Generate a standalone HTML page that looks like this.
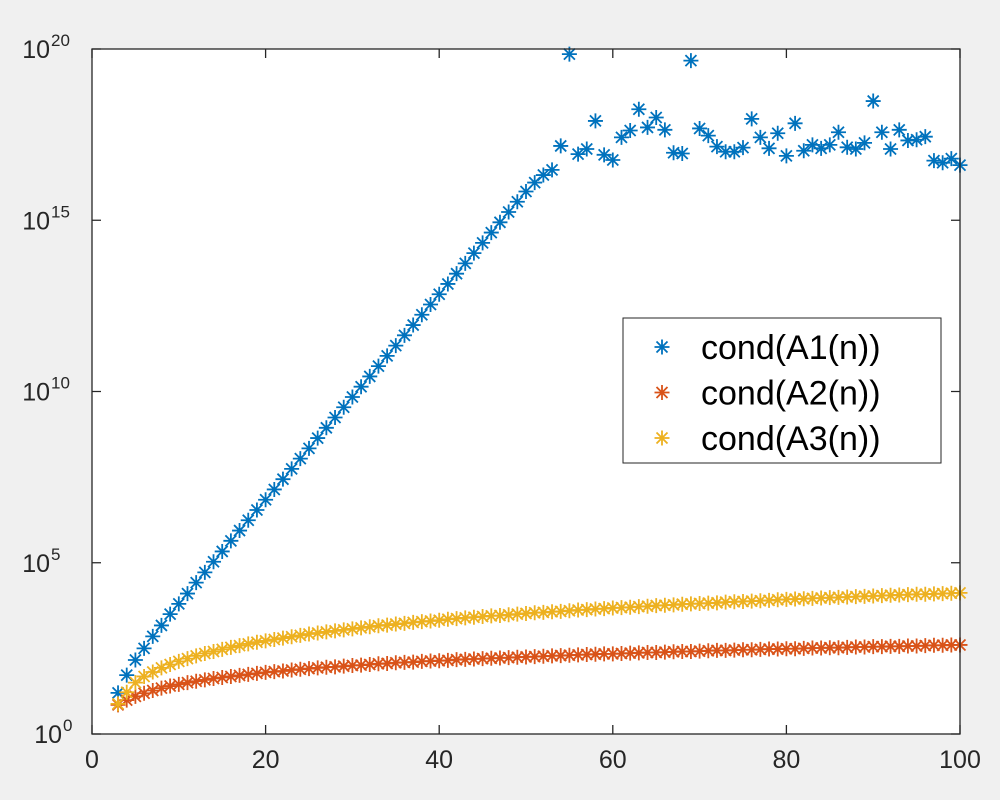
<!DOCTYPE html>
<html><head><meta charset="utf-8"><style>
body{margin:0;background:#f0f0f0;}
svg{display:block;font-family:"Liberation Sans",sans-serif;}
</style></head><body>
<svg id="chart" width="1000" height="800" viewBox="0 0 1000 800"></svg>
<script>
const xTicks=[0,20,40,60,80,100];
const yTickExps=[0,5,10,15,20];
const nValues=[];for(let n=3;n<=100;n++)nValues.push(n);
const cond1Log=[1.2,1.72,2.16,2.5,2.85,3.17,3.5,3.8,4.1,4.42,4.72,5.03,5.33,5.64,5.94,6.24,6.54,6.84,7.14,7.44,7.74,8.04,8.34,8.64,8.94,9.24,9.54,9.84,10.14,10.44,10.74,11.04,11.34,11.64,11.94,12.24,12.54,12.84,13.14,13.44,13.74,14.04,14.34,14.64,14.94,15.24,15.54,15.84,16.1,16.32,16.47,17.17,19.85,16.93,17.08,17.9,16.91,16.76,17.42,17.62,18.24,17.71,18.0,17.64,16.97,16.95,19.66,17.68,17.47,17.15,17.0,17.0,17.12,17.96,17.42,17.1,17.54,16.88,17.83,17.03,17.2,17.1,17.2,17.57,17.13,17.08,17.26,18.48,17.57,17.08,17.64,17.33,17.35,17.44,16.74,16.68,16.8,16.61];
const cond2Log=[0.85,0.99,1.10,1.19,1.27,1.34,1.40,1.45,1.50,1.54,1.58,1.62,1.65,1.68,1.71,1.74,1.77,1.80,1.82,1.84,1.87,1.89,1.91,1.93,1.95,1.96,1.98,2.0,2.01,2.03,2.05,2.06,2.08,2.09,2.10,2.12,2.13,2.14,2.15,2.17,2.18,2.19,2.20,2.21,2.22,2.23,2.24,2.25,2.26,2.27,2.28,2.29,2.30,2.31,2.32,2.33,2.34,2.34,2.35,2.36,2.37,2.38,2.38,2.39,2.40,2.41,2.41,2.42,2.43,2.44,2.44,2.45,2.46,2.46,2.47,2.48,2.48,2.49,2.49,2.50,2.51,2.51,2.52,2.52,2.53,2.54,2.54,2.55,2.55,2.56,2.56,2.57,2.57,2.58,2.59,2.59,2.60,2.60];
const cond3Log=[0.88,1.22,1.50,1.68,1.81,1.93,2.03,2.12,2.20,2.28,2.35,2.41,2.47,2.53,2.58,2.63,2.68,2.72,2.76,2.80,2.84,2.88,2.92,2.95,2.98,3.01,3.04,3.07,3.10,3.13,3.16,3.18,3.21,3.23,3.26,3.28,3.30,3.32,3.35,3.37,3.39,3.41,3.43,3.45,3.46,3.48,3.50,3.52,3.54,3.55,3.57,3.58,3.60,3.62,3.63,3.65,3.66,3.68,3.69,3.70,3.72,3.73,3.75,3.76,3.77,3.79,3.80,3.81,3.82,3.83,3.85,3.86,3.87,3.88,3.89,3.90,3.92,3.93,3.94,3.95,3.96,3.97,3.98,3.99,4.0,4.01,4.02,4.03,4.04,4.05,4.06,4.07,4.08,4.08,4.09,4.10,4.11,4.12];

const NS="http://www.w3.org/2000/svg";
const svg=document.getElementById('chart');
const L=92,R=960,T=49,B=734;
const xs=v=>L+(v-0)/100*(R-L);
const ys=e=>B-(e-0)/20*(B-T);
function mk(tag,attrs,parent){const el=document.createElementNS(NS,tag);for(const k in attrs)el.setAttribute(k,attrs[k]);(parent||svg).appendChild(el);return el;}

const plot=mk('rect',{x:L,y:T,width:R-L,height:B-T,fill:'#fff'});



function star(g,cx,cy,color){
  const s=7.5,d=5.5;
  mk('path',{d:`M${cx-s},${cy}H${cx+s}M${cx},${cy-s}V${cy+s}M${cx-d},${cy-d}L${cx+d},${cy+d}M${cx-d},${cy+d}L${cx+d},${cy-d}`,stroke:color,'stroke-width':1.8,fill:'none'},g);
}
const series=[[cond1Log,'#0072BD','series-cond-a1'],[cond2Log,'#D95319','series-cond-a2'],[cond3Log,'#EDB120','series-cond-a3']];
series.forEach(([arr,color,name])=>{
  const g=mk('g',{});
  
  
  arr.forEach((v,i)=>star(g,xs(nValues[i]),ys(v),color));
});

const axes=mk('g',{});


mk('rect',{x:L,y:T,width:R-L,height:B-T,fill:'none',stroke:'#262626','stroke-width':1.3},axes);
xTicks.forEach(t=>{
  const x=xs(t);
  mk('path',{d:`M${x},${B}V${B-9}M${x},${T}V${T+9}`,stroke:'#262626','stroke-width':1.3},axes);
  const tx=mk('text',{x:x,y:B+34,'text-anchor':'middle','font-size':25,fill:'#262626'},axes);
  tx.textContent=t;
  
  
});
yTickExps.forEach(e=>{
  const y=ys(e);
  mk('path',{d:`M${L},${y}H${L+9}M${R},${y}H${R-9}`,stroke:'#262626','stroke-width':1.3},axes);
  const tx=mk('text',{x:e===0?62:50,y:y+9,'text-anchor':'end','font-size':25,fill:'#262626'},axes);
  tx.textContent='10';
  
  
  const sup=mk('text',{x:e===0?63:51,y:y-3,'text-anchor':'start','font-size':17,fill:'#262626'},axes);
  sup.textContent=String(e);
  
  
});

const lg=mk('g',{});


mk('rect',{x:623,y:318,width:318,height:145,fill:'#fff',stroke:'#262626','stroke-width':1},lg);
const labels=['cond(A1(n))','cond(A2(n))','cond(A3(n))'];
labels.forEach((lab,i)=>{
  const y=347+i*45.5;
  const e=mk('g',{},lg);
  
  
  star(e,662,y,series[i][1]);
  const t=mk('text',{x:701,y:y+12,'font-size':34,fill:'#000'},e);
  t.textContent=lab;
});
</script>
</body></html>
